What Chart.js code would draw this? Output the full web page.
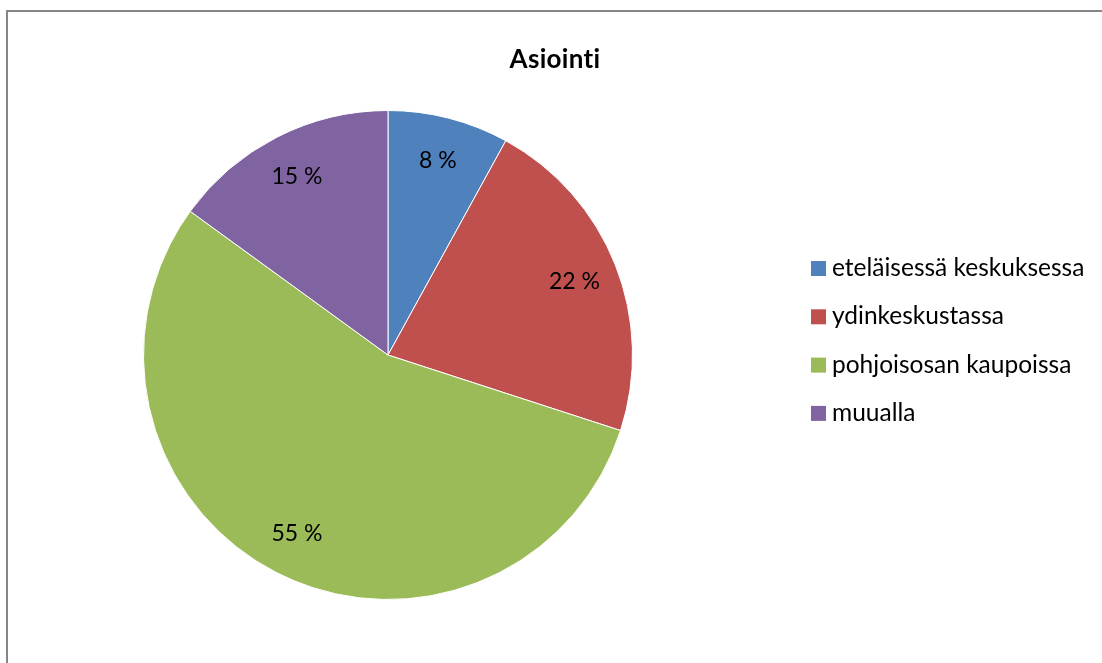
<!DOCTYPE html>
<html>
<head>
<meta charset="utf-8">
<script src="https://cdn.jsdelivr.net/npm/chart.js@4/dist/chart.umd.min.js"></script>
<style>
    html, body { margin: 0; padding: 0; background: #fff; }
    #wrap { position: relative; width: 1102px; height: 663px; overflow: hidden; }
    #frame { position: absolute; left: 6px; top: 10px; width: 1200px; height: 800px;
             border-top: 2px solid #868686; border-left: 2px solid #868686; }
    canvas { position: absolute; left: 0; top: 0; }
</style>
</head>
<body>
<div id="wrap">
    <div id="frame"></div>
    <canvas id="chart" width="1102" height="663"></canvas>
</div>
<script>
// Данные диаграммы
const chartTitle = 'Asiointi';
const categories = ['eteläisessä keskuksessa', 'ydinkeskustassa', 'pohjoisosan kaupoissa', 'muualla'];
const values = [8, 22, 55, 15];
const sliceColors = ['#4F81BD', '#C0504D', '#9BBB59', '#8064A2'];

const FONT = 'Lato, sans-serif';

// Подписи процентов внутри секторов
const sliceLabels = {
    id: 'sliceLabels',
    afterDatasetsDraw(chart) {
        const ctx = chart.ctx;
        const meta = chart.getDatasetMeta(0);
        ctx.save();
        ctx.font = '23px ' + FONT;
        ctx.fillStyle = '#000';
        ctx.textAlign = 'center';
        ctx.textBaseline = 'middle';
        meta.data.forEach((arc, i) => {
            const mid = (arc.startAngle + arc.endAngle) / 2;
            const r = arc.outerRadius * 0.82;
            ctx.fillText(values[i] + ' %', arc.x + Math.cos(mid) * r, arc.y + Math.sin(mid) * r);
        });
        ctx.restore();
    }
};

// Заголовок и легенда
const titleAndLegend = {
    id: 'titleAndLegend',
    afterDraw(chart) {
        const ctx = chart.ctx;
        ctx.save();
        ctx.font = 'bold 26px ' + FONT;
        ctx.letterSpacing = '0.3px'; // отключаем лигатуру "ti"
        ctx.fillStyle = '#000';
        ctx.textAlign = 'center';
        ctx.textBaseline = 'middle';
        ctx.fillText(chartTitle, 555, 60);
        ctx.letterSpacing = '0px';

        ctx.font = '24.5px ' + FONT;
        ctx.textAlign = 'left';
        chart.data.labels.forEach((label, i) => {
            const y = 268 + i * 48.3;
            ctx.fillStyle = sliceColors[i];
            ctx.fillRect(811, y - 7, 15, 15);
            ctx.fillStyle = '#000';
            ctx.fillText(label, 832, y);
        });
        ctx.restore();
    }
};

new Chart(document.getElementById('chart'), {
    type: 'pie',
    data: {
        labels: categories,
        datasets: [{
            data: values,
            backgroundColor: sliceColors,
            borderColor: '#ffffff',
            borderWidth: 1
        }]
    },
    options: {
        responsive: false,
        animation: false,
        layout: { padding: { left: 143, right: 469, top: 110, bottom: 63 } },
        plugins: {
            legend: { display: false },
            tooltip: { enabled: false }
        }
    },
    plugins: [sliceLabels, titleAndLegend]
});
</script>
</body>
</html>
